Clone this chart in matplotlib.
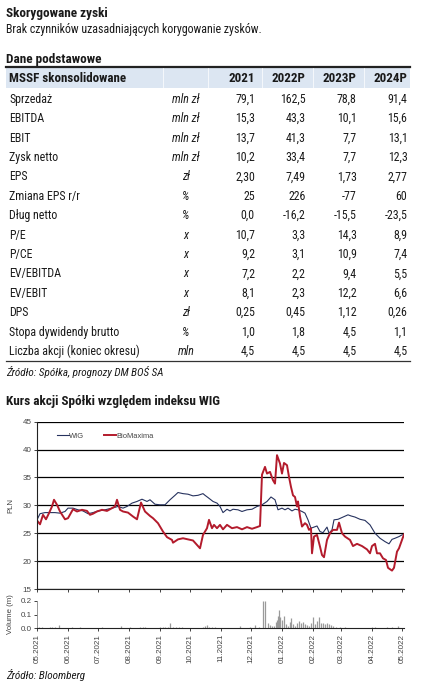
import matplotlib
matplotlib.use("Agg")
import matplotlib.pyplot as plt
import matplotlib.dates as mdates
from matplotlib import font_manager
from matplotlib.lines import Line2D
from matplotlib.patches import Rectangle
import pandas as pd

# the source uses Arial Narrow; use a narrow face if one is installed, else shrink
_names = {f.name for f in font_manager.fontManager.ttflist}
NARROW = next((n for n in ["Liberation Sans Narrow", "Arial Narrow", "Roboto Condensed"]
               if n in _names), None)
if NARROW:
    plt.rcParams["font.family"] = [NARROW, "Liberation Sans", "DejaVu Sans"]
    TS, BS, HS = 8.6, 9.5, 9.4
else:
    plt.rcParams["font.family"] = ["Liberation Sans", "DejaVu Sans"]
    TS, BS, HS = 7.7, 7.9, 7.7
SANS = ["Liberation Sans", "DejaVu Sans"]

# --- table data ---
row_labels = ["Sprzedaż", "EBITDA", "EBIT", "Zysk netto", "EPS", "Zmiana EPS r/r",
              "Dług netto", "P/E", "P/CE", "EV/EBITDA", "EV/EBIT", "DPS",
              "Stopa dywidendy brutto", "Liczba akcji (koniec okresu)"]
row_units = ["mln zł", "mln zł", "mln zł", "mln zł", "zł", "%", "%", "x", "x", "x", "x",
             "zł", "%", "mln"]
years = ["2021", "2022P", "2023P", "2024P"]
val_2021 = ["79,1", "15,3", "13,7", "10,2", "2,30", "25", "0,0", "10,7", "9,2", "7,2",
            "8,1", "0,25", "1,0", "4,5"]
val_2022p = ["162,5", "43,3", "41,3", "33,4", "7,49", "226", "-16,2", "3,3", "3,1", "2,2",
             "2,3", "0,45", "1,8", "4,5"]
val_2023p = ["78,8", "10,1", "7,7", "7,7", "1,73", "-77", "-15,5", "14,3", "10,9", "9,4",
             "12,2", "1,12", "4,5", "4,5"]
val_2024p = ["91,4", "15,6", "13,1", "12,3", "2,77", "60", "-23,5", "8,9", "7,4", "5,5",
             "6,6", "0,26", "1,1", "4,5"]

# --- price data (days since 2021-05-01) ---
bio_days = [0, 3, 6, 9, 12, 15, 17, 20, 23, 28, 31, 36, 40, 45, 50, 53, 56, 60, 65, 70,
            75, 78, 80, 83, 86, 91, 96, 100, 104, 108, 113, 116, 121, 126, 130, 135, 136,
            141, 146, 151, 156, 160, 163, 166, 170, 172, 175, 177, 180, 183, 186, 190,
            195, 200, 205, 210, 215, 220, 223, 225, 228, 230, 233, 236, 238, 240, 243,
            245, 247, 250, 252, 254, 256, 258, 260, 261, 263, 265, 268, 270, 272, 274,
            275, 277, 280, 283, 285, 287, 290, 293, 296, 300, 302, 305, 308, 313, 316,
            320, 325, 330, 333, 335, 338, 340, 343, 346, 349, 351, 355, 357, 360, 362,
            365, 367]
bio_vals = [27.3, 26.6, 28.3, 27.5, 28.6, 29.8, 31.0, 30.1, 28.9, 27.5, 27.7, 29.3, 28.9,
            29.2, 29.0, 28.3, 28.5, 28.9, 29.2, 29.0, 29.5, 29.8, 31.0, 29.2, 28.9, 28.7,
            28.0, 27.5, 30.5, 28.9, 28.1, 27.7, 26.8, 25.3, 24.3, 23.8, 23.3, 23.9, 24.1,
            23.9, 23.7, 22.9, 22.3, 24.7, 25.9, 27.4, 25.9, 26.5, 25.9, 26.5, 25.7, 26.5,
            25.9, 26.1, 25.7, 26.1, 25.8, 26.1, 26.3, 35.5, 36.9, 35.7, 36.0, 34.5, 33.9,
            39.0, 37.5, 35.7, 37.6, 37.2, 35.1, 33.3, 31.8, 31.5, 29.8, 30.7, 28.0, 26.2,
            26.8, 26.5, 25.6, 25.9, 21.4, 24.4, 24.7, 22.6, 21.1, 20.7, 23.8, 25.0, 25.6,
            25.6, 26.9, 25.0, 24.4, 23.8, 22.7, 23.1, 22.7, 22.1, 21.4, 22.7, 23.1, 21.4,
            21.4, 20.5, 20.2, 18.8, 18.3, 18.8, 21.7, 22.3, 23.8, 24.8]

wig_days = [0, 3, 8, 13, 18, 23, 28, 31, 36, 41, 46, 51, 56, 61, 68, 75, 81, 86, 90, 95,
            100, 105, 110, 113, 118, 123, 128, 133, 138, 141, 146, 151, 156, 161, 166,
            168, 171, 176, 180, 183, 186, 190, 193, 196, 201, 205, 210, 215, 220, 225,
            230, 234, 238, 241, 245, 248, 251, 255, 258, 261, 265, 268, 271, 274, 277,
            280, 283, 286, 290, 292, 295, 297, 301, 306, 311, 314, 318, 323, 328, 333,
            338, 343, 348, 352, 355, 358, 362, 365, 367]
wig_vals = [27.4, 28.5, 28.7, 28.7, 28.7, 28.6, 28.9, 29.5, 29.5, 29.2, 29.0, 28.5, 28.7,
            29.0, 29.2, 29.5, 29.8, 29.5, 29.8, 30.4, 30.7, 31.1, 30.7, 31.0, 30.2, 30.1,
            30.1, 31.0, 31.8, 32.3, 32.1, 32.0, 31.7, 31.8, 32.1, 31.8, 31.4, 30.7, 30.4,
            29.8, 28.7, 29.3, 29.0, 29.3, 29.2, 28.9, 29.2, 29.3, 29.8, 30.1, 30.7, 31.5,
            31.0, 29.2, 29.5, 29.2, 29.5, 29.0, 29.3, 29.2, 28.9, 28.6, 27.4, 25.9, 26.1,
            26.3, 25.3, 25.1, 26.1, 25.0, 25.6, 27.4, 27.5, 27.9, 28.3, 28.1, 27.9, 27.5,
            27.3, 26.5, 25.0, 24.1, 23.5, 23.1, 23.9, 24.1, 24.4, 24.7, 24.8]

# --- volume (m shares) ---
vol_days = [2, 5, 9, 13, 15, 18, 22, 26, 30, 35, 40, 43, 48, 55, 60, 65, 72, 78, 84, 88,
            93, 98, 103, 106, 108, 112, 118, 123, 126, 128, 131, 133, 136, 139, 142, 145,
            150, 156, 162, 166, 168, 170, 172, 175, 178, 184, 190, 196, 203, 208, 213,
            218, 222, 226, 228, 231, 233, 235, 237, 239, 240, 241, 242, 243, 245, 247,
            249, 251, 253, 254, 256, 258, 260, 262, 264, 266, 268, 270, 272, 274, 276,
            278, 280, 282, 284, 286, 288, 290, 292, 294, 296, 299, 303, 308, 313, 318,
            324, 330, 335, 338, 341, 346, 350, 355, 358, 361, 364, 366]
vol_vals = [0.006, 0.008, 0.005, 0.010, 0.012, 0.006, 0.025, 0.005, 0.004, 0.008, 0.004,
            0.006, 0.003, 0.004, 0.003, 0.006, 0.004, 0.005, 0.020, 0.004, 0.006, 0.004,
            0.008, 0.010, 0.012, 0.005, 0.004, 0.010, 0.006, 0.012, 0.008, 0.035, 0.006,
            0.010, 0.008, 0.006, 0.004, 0.003, 0.004, 0.010, 0.020, 0.025, 0.012, 0.008,
            0.010, 0.004, 0.003, 0.004, 0.020, 0.005, 0.012, 0.022, 0.008, 0.200, 0.200,
            0.035, 0.025, 0.020, 0.015, 0.045, 0.060, 0.090, 0.130, 0.080, 0.060, 0.090,
            0.030, 0.020, 0.045, 0.072, 0.030, 0.020, 0.040, 0.050, 0.035, 0.045, 0.030,
            0.025, 0.020, 0.035, 0.085, 0.030, 0.050, 0.080, 0.040, 0.035, 0.030, 0.040,
            0.030, 0.025, 0.020, 0.012, 0.008, 0.006, 0.005, 0.004, 0.003, 0.004, 0.008,
            0.006, 0.005, 0.004, 0.006, 0.010, 0.004, 0.015, 0.005, 0.004]

START = pd.Timestamp("2021-05-01")
W, H = 424, 688


def fx(x):
    return x / W


def fy(y):
    return 1 - y / H


def to_dates(days):
    return START + pd.to_timedelta(days, unit="D")


fig = plt.figure(figsize=(W / 100, H / 100), dpi=100)
ink = "#1a1a1a"

# --- header texts ---
fig.text(fx(6), fy(14), "Skorygowane zyski", fontsize=BS, fontweight="bold",
         va="center", color=ink)
fig.text(fx(6), fy(30), "Brak czynników uzasadniających korygowanie zysków.",
         fontsize=TS, va="center", color=ink)
fig.text(fx(6), fy(60), "Dane podstawowe", fontsize=BS, fontweight="bold",
         va="center", color=ink)

# --- table ---
fig.add_artist(Rectangle((fx(6), fy(88)), fx(404), 21 / H, transform=fig.transFigure,
                         facecolor="#dce6f2", edgecolor="none"))
fig.add_artist(Line2D([fx(6), fx(410)], [fy(66.5), fy(66.5)], transform=fig.transFigure,
                      color="#222222", lw=1.6))
for sx in [163, 208, 262, 313, 364]:
    fig.add_artist(Line2D([fx(sx), fx(sx)], [fy(67.5), fy(88)], transform=fig.transFigure,
                          color="white", lw=0.5))
fig.add_artist(Line2D([fx(6), fx(410)], [fy(360.5), fy(360.5)], transform=fig.transFigure,
                      color="#333333", lw=0.9))

col_right = [255, 305.5, 356.5, 407.5]
fig.text(fx(9), fy(78), "MSSF skonsolidowane", fontsize=HS, fontweight="bold",
         va="center", color=ink)
for x, yr in zip(col_right, years):
    fig.text(fx(x), fy(78), yr, fontsize=HS, fontweight="bold", va="center", ha="right",
             color=ink)

row_y0, row_step = 99.3, 19.4
columns = [val_2021, val_2022p, val_2023p, val_2024p]
for i, (lab, unit) in enumerate(zip(row_labels, row_units)):
    y = fy(row_y0 + i * row_step)
    fig.text(fx(9), y, lab, fontsize=TS, va="center", color=ink)
    fig.text(fx(186), y, unit, fontsize=TS, va="center", ha="center", style="italic",
             color=ink)
    for x, col in zip(col_right, columns):
        fig.text(fx(x), y, col[i], fontsize=TS, va="center", ha="right", color=ink)

fig.text(fx(6), fy(372), "Źródło: Spółka, prognozy DM BOŚ SA", fontsize=TS - 0.6,
         style="italic", va="center", color=ink)

# --- chart ---
fig.text(fx(6), fy(401), "Kurs akcji Spółki względem indeksu WIG", fontsize=BS,
         fontweight="bold", va="center", color=ink)

ax_left, ax_w = fx(37), (404 - 37) / W
ax = fig.add_axes([ax_left, fy(589), ax_w, (589 - 421.7) / H])
axv = fig.add_axes([ax_left, fy(628.3), ax_w, (628.3 - 600.7) / H], sharex=ax)

ax.plot(to_dates(wig_days), wig_vals, color="#26325e", lw=0.8, label="WIG")
ax.plot(to_dates(bio_days), bio_vals, color="#b31b2c", lw=1.4, label="BioMaxima")
ax.set_ylim(15, 45)
ax.set_yticks(range(15, 50, 5))
ax.set_xlim(START, START + pd.Timedelta(days=367))
ax.grid(axis="y", color="black", lw=0.9)
ax.set_axisbelow(True)
for s in ["top", "right"]:
    ax.spines[s].set_visible(False)
for s in ["left", "bottom"]:
    ax.spines[s].set_color("#222222")
    ax.spines[s].set_linewidth(0.8)
ax.tick_params(axis="both", labelsize=5.8, colors="#222222", labelcolor="#444444",
               length=2.5, width=0.6, pad=1.5)
ax.tick_params(axis="x", labelbottom=False)
for t in ax.get_yticklabels():
    t.set_family(SANS)
ax.set_ylabel("PLN", fontsize=5.6, color="#444444", family=SANS)
ax.yaxis.set_label_coords(-0.062, 0.5)
leg = ax.legend(loc="upper left", bbox_to_anchor=(0.035, 0.975), ncol=2, frameon=False,
                handlelength=1.6, handletextpad=0.1, columnspacing=2.6,
                prop={"family": SANS, "size": 5.4})
for t in leg.get_texts():
    t.set_color("#444444")

axv.vlines(to_dates(vol_days), 0, vol_vals, color="#9a9a9a", lw=0.9)
axv.set_ylim(0, 0.2)
axv.set_yticks([0.0, 0.1, 0.2])
axv.yaxis.set_major_formatter(matplotlib.ticker.FormatStrFormatter("%.1f"))
for s in ["top", "right"]:
    axv.spines[s].set_visible(False)
axv.spines["left"].set_color("#888888")
axv.spines["bottom"].set_color("#222222")
axv.spines["left"].set_linewidth(0.6)
axv.spines["bottom"].set_linewidth(0.8)
axv.xaxis.set_major_locator(mdates.MonthLocator())
axv.xaxis.set_major_formatter(mdates.DateFormatter("%m.%Y"))
axv.tick_params(axis="both", labelsize=5.8, colors="#222222", labelcolor="#444444",
                length=2.5, width=0.6, pad=1.5)
for t in axv.get_xticklabels() + axv.get_yticklabels():
    t.set_family(SANS)
plt.setp(axv.get_xticklabels(), rotation=90, ha="center", va="top")
axv.set_ylabel("Volume (m)", fontsize=5.6, color="#444444", family=SANS)
axv.yaxis.set_label_coords(-0.062, 0.5)

fig.text(fx(6), fy(675), "Źródło: Bloomberg", fontsize=TS - 0.6, style="italic",
         va="center", color=ink)

fig.savefig("out.png", dpi=100)
